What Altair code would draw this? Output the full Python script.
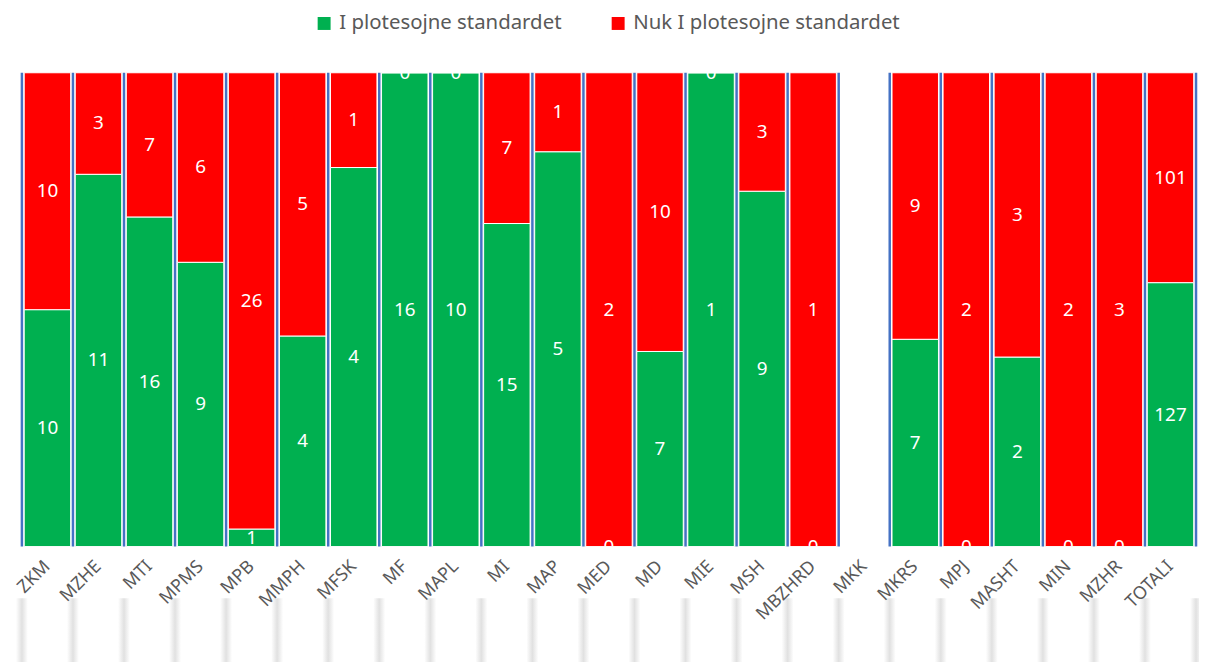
import altair as alt
import pandas as pd

categories = ["ZKM", "MZHE", "MTI", "MPMS", "MPB", "MMPH", "MFSK", "MF", "MAPL", "MI",
              "MAP", "MED", "MD", "MIE", "MSH", "MBZHRD", "MKK", "MKRS", "MPJ", "MASHT",
              "MIN", "MZHR", "TOTALI"]
meets = [10, 11, 16, 9, 1, 4, 4, 16, 10, 15, 5, 0, 7, 1, 9, 0, None, 7, 0, 2, 0, 0, 127]
fails = [10, 3, 7, 6, 26, 5, 1, 0, 0, 7, 1, 2, 10, 0, 3, 1, None, 9, 2, 3, 2, 3, 101]
series = ["I plotesojne standardet", "Nuk I plotesojne standardet"]
colors = ["#00B050", "#FF0000"]

W, H = 1182, 477
step = W / len(categories)
FONT = "Noto Sans"

rows = []
for c, g, r in zip(categories, meets, fails):
    if g is None or r is None:
        continue
    tot = g + r
    f0 = g / tot
    rows.append(dict(cat=c, s=series[0], v=g, y0=0.0, y1=f0, mid=f0 / 2, o=0))
    rows.append(dict(cat=c, s=series[1], v=r, y0=f0, y1=1.0, mid=(f0 + 1) / 2, o=1))
df = pd.DataFrame(rows)
cats = pd.DataFrame({"cat": categories})

xscale = alt.Scale(domain=categories, paddingInner=0, paddingOuter=0)
yscale = alt.Scale(domain=[0, 1])

xaxis = alt.Axis(title=None, labelAngle=-45, labelAlign="right", labelBaseline="middle",
                 labelFontSize=18, labelFont=FONT, labelColor="#595959", labelPadding=17,
                 domain=False, ticks=False, grid=False, zindex=1)

base = alt.Chart(df)

bars = base.mark_bar(width=alt.RelativeBandSize(0.91), stroke="white", strokeWidth=1).encode(
    x=alt.X("cat:N", scale=xscale, axis=xaxis, sort=categories),
    y=alt.Y("y0:Q", scale=yscale, axis=None),
    y2="y1:Q",
    color=alt.Color("s:N", scale=alt.Scale(domain=series, range=colors),
                    legend=alt.Legend(title=None, orient="none", direction="horizontal",
                                      legendX=294, legendY=-60, padding=0, symbolType="square",
                                      symbolSize=170, symbolStrokeWidth=0,
                                      labelFontSize=20.5, labelFont=FONT, labelColor="#595959",
                                      labelOffset=5, columnPadding=46, labelLimit=400)),
    order="o:Q",
)

labels = base.mark_text(color="white", fontSize=19, font=FONT, baseline="middle",
                        clip=True).encode(
    x=alt.X("cat:N", scale=xscale, sort=categories),
    y=alt.Y("mid:Q", scale=yscale),
    text="v:Q",
)

grid = alt.Chart(cats).mark_rule(color="#4472C4", strokeWidth=2.5).encode(
    x=alt.X("cat:N", scale=xscale, sort=categories, bandPosition=0),
    y=alt.value(0),
    y2=alt.value(H),
)
grid_end = alt.Chart(cats.head(1)).mark_rule(color="#4472C4", strokeWidth=2.5).encode(
    x=alt.value(W), y=alt.value(0), y2=alt.value(H),
)

shade = alt.Gradient(
    gradient="linear", x1=0, x2=1, y1=0, y2=0,
    stops=[alt.GradientStop(color="rgba(200,200,200,0)", offset=0),
           alt.GradientStop(color="rgba(200,200,200,0.55)", offset=0.5),
           alt.GradientStop(color="rgba(200,200,200,0)", offset=1)],
)
shadows = alt.Chart(cats).mark_bar(width=12, color=shade, xOffset=-step / 2).encode(
    x=alt.X("cat:N", scale=xscale, sort=categories),
    y=alt.value(H + 52),
    y2=alt.value(H + 120),
)
shadow_end = alt.Chart(cats.head(1)).mark_rect(color=shade).encode(
    x=alt.value(W - 6), x2=alt.value(W + 6),
    y=alt.value(H + 52), y2=alt.value(H + 120),
)

chart = alt.layer(shadows, shadow_end, bars, grid, grid_end, labels).properties(
    width=W, height=H,
    autosize=alt.AutoSizeParams(type="none"),
    padding={"left": 14, "top": 63, "right": 3, "bottom": 114},
).configure_view(stroke=None)

chart.save("out.html", embed_options={"renderer": "svg", "actions": False})
